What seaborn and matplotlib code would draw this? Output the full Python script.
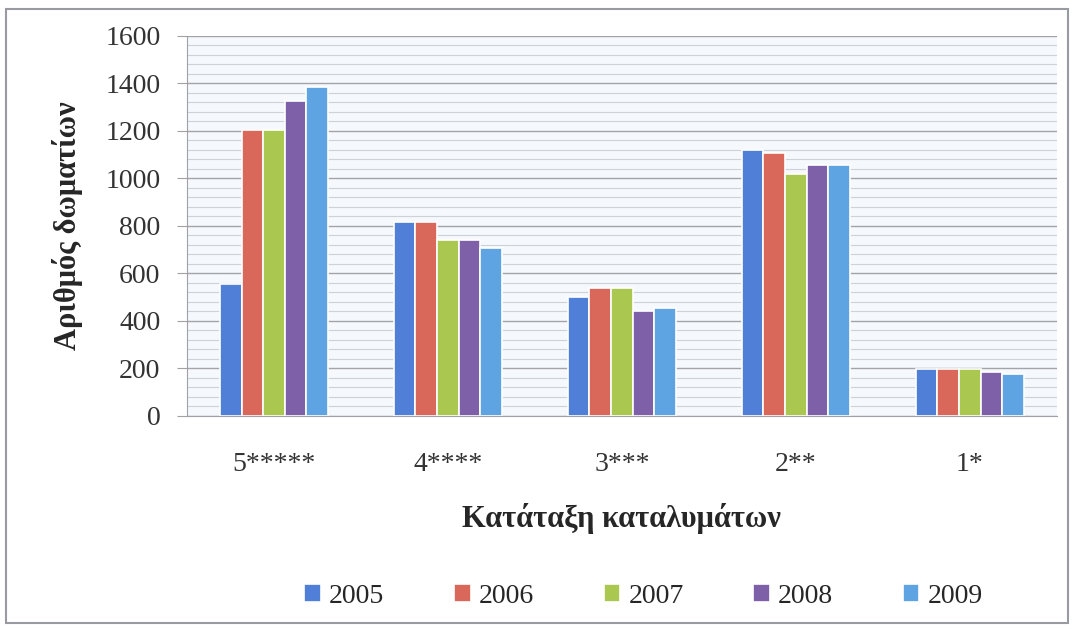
import numpy as np
import pandas as pd
import seaborn as sns
import matplotlib.pyplot as plt
import matplotlib.ticker as mticker
from matplotlib.patches import Rectangle

# data
categories = ['5*****', '4****', '3***', '2**', '1*']
years = ['2005', '2006', '2007', '2008', '2009']
rooms_2005 = [555, 815, 500, 1120, 197]
rooms_2006 = [1205, 815, 540, 1105, 197]
rooms_2007 = [1205, 740, 540, 1020, 197]
rooms_2008 = [1325, 740, 442, 1055, 186]
rooms_2009 = [1385, 708, 452, 1055, 178]
colors = ['#4f7fd6', '#d9685b', '#aac850', '#7e60a8', '#5ea4e2']

series = [rooms_2005, rooms_2006, rooms_2007, rooms_2008, rooms_2009]
df = pd.DataFrame({
    'cat': categories * len(years),
    'year': [y for y in years for _ in categories],
    'rooms': [v for s in series for v in s],
})

sns.set_style('white')
plt.rcParams['font.family'] = ['Liberation Serif', 'DejaVu Serif']

fig = plt.figure(figsize=(10.74, 6.29), dpi=100)
ax = fig.add_axes([0.174, 0.339, 0.81, 0.604])
ax.set_facecolor('#f5f8fc')

sns.barplot(data=df, x='cat', y='rooms', hue='year', order=categories, hue_order=years,
            palette=colors, width=0.62, edgecolor='white', linewidth=1.2, saturation=1,
            ax=ax, zorder=3)

ax.set_ylim(0, 1600)
ax.set_xlim(-0.5, 4.5)
ax.yaxis.set_major_locator(mticker.MultipleLocator(200))
ax.yaxis.set_minor_locator(mticker.MultipleLocator(40))
ax.grid(which='major', axis='y', color='#a3a3a8', linewidth=1.0, zorder=0)
ax.grid(which='minor', axis='y', color='#cfd1d8', linewidth=0.8, zorder=0)
ax.set_axisbelow(True)

for s in ['top', 'right']:
    ax.spines[s].set_visible(False)
ax.spines['left'].set_color('#a0a0a5')
ax.spines['bottom'].set_color('#a0a0a5')
ax.tick_params(axis='y', which='major', length=7, color='#a0a0a5', labelsize=20, pad=12, left=True)
ax.tick_params(axis='y', which='minor', length=0)
ax.tick_params(axis='x', length=0, labelsize=20, pad=26)
for t in ax.get_yticklabels() + ax.get_xticklabels():
    t.set_color('#333333')

ax.set_xlabel('Κατάταξη καταλυμάτων', fontsize=22, fontweight='bold', labelpad=19)
ax.set_ylabel('Αριθμός δωματίων', fontsize=22, fontweight='bold', labelpad=16)

handles, labels = ax.get_legend_handles_labels()
ax.legend(handles, labels, loc='center', bbox_to_anchor=(0.525, -0.475), ncol=5, frameon=False,
          fontsize=20, handlelength=0.6, handleheight=0.6, handletextpad=0.3, columnspacing=2.5)

fig.add_artist(Rectangle((0.006, 0.01), 0.988, 0.975, transform=fig.transFigure,
                         fill=False, edgecolor='#9a9aa2', linewidth=1.5))

fig.savefig('out.png', dpi=100)
